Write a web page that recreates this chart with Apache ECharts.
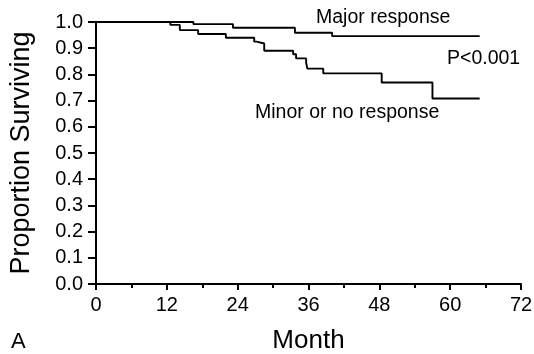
<!DOCTYPE html>
<html>
<head>
<meta charset="utf-8">
<script src="https://cdn.jsdelivr.net/npm/echarts@6/dist/echarts.min.js"></script>
<style>
  html, body { margin: 0; padding: 0; background: #fff; }
  #chart { width: 534px; height: 354px; }
</style>
</head>
<body>
<div id="chart"></div>
<script>
// Kaplan-Meier steps: month of each drop, value after it
const majorMonths = [0, 16.5, 23.2, 33.7, 40, 65];
const majorSurv = [1, 0.992, 0.978, 0.959, 0.946, 0.946];

const minorMonths = [0, 12.6, 14.2, 17.3, 22, 26.8, 27.2, 28.5, 33.4, 33.9, 35.6, 35.8, 38.5, 48.4, 57, 65];
const minorSurv = [1, 0.989, 0.969, 0.954, 0.94, 0.925, 0.918, 0.89, 0.877, 0.861, 0.845, 0.822, 0.804, 0.769, 0.708, 0.708];

const xTicks = [0, 12, 24, 36, 48, 60, 72];
const yTicks = [0, 0.1, 0.2, 0.3, 0.4, 0.5, 0.6, 0.7, 0.8, 0.9, 1.0];

const font = "Liberation Sans, Arial, Helvetica, sans-serif";

const pairs = (xs, ys) => xs.map((x, i) => [x, ys[i]]);

const chart = echarts.init(document.getElementById("chart"));

const option = {
  animation: false,
  grid: { left: 96, right: 13, top: 22, bottom: 70, containLabel: false, outerBoundsMode: "none" },
  xAxis: {
    type: "value",
    min: xTicks[0],
    max: xTicks[xTicks.length - 1],
    interval: 12,
    name: "Month",
    nameLocation: "middle",
    nameGap: 44,
    nameTextStyle: { fontFamily: font, fontSize: 26, color: "#000" },
    axisLine: { lineStyle: { color: "#000", width: 2 } },
    axisTick: { show: true, length: 6, lineStyle: { color: "#000", width: 2 } },
    minorTick: { show: true, splitNumber: 2, length: 4, lineStyle: { color: "#000", width: 2 } },
    axisLabel: { fontFamily: font, fontSize: 20, color: "#000", margin: 11 },
    splitLine: { show: false }
  },
  yAxis: {
    type: "value",
    min: yTicks[0],
    max: yTicks[yTicks.length - 1],
    interval: 0.1,
    name: "Proportion Surviving",
    nameLocation: "middle",
    nameGap: 61,
    nameTextStyle: { fontFamily: font, fontSize: 27, color: "#000" },
    axisLine: { show: true, lineStyle: { color: "#000", width: 2 } },
    axisTick: { show: true, length: 8, lineStyle: { color: "#000", width: 2 } },
    axisLabel: {
      fontFamily: font, fontSize: 20, color: "#000", margin: 13,
      formatter: (v) => v.toFixed(1)
    },
    splitLine: { show: false }
  },
  series: [
    {
      name: "Major response",
      type: "line",
      step: "end",
      data: pairs(majorMonths, majorSurv),
      symbol: "none",
      lineStyle: { color: "#000", width: 1.9 }
    },
    {
      name: "Minor or no response",
      type: "line",
      step: "end",
      data: pairs(minorMonths, minorSurv),
      symbol: "none",
      lineStyle: { color: "#000", width: 1.9 }
    }
  ],
  graphic: [
    { type: "text", left: 316, top: 8,
      style: { text: "Major response", font: "19.5px " + font, fill: "#000" } },
    { type: "text", left: 447, top: 49,
      style: { text: "P<0.001", font: "19.5px " + font, fill: "#000" } },
    { type: "text", left: 255, top: 103,
      style: { text: "Minor or no response", font: "19.5px " + font, fill: "#000" } },
    { type: "text", left: 11, top: 331,
      style: { text: "A", font: "22px " + font, fill: "#000" } }
  ]
};

chart.setOption(option);
window.addEventListener("resize", () => chart.resize());
</script>
</body>
</html>
